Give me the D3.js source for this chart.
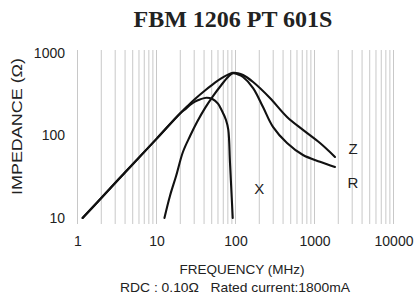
<!DOCTYPE html>
<html><head><meta charset="utf-8">
<script src="https://cdn.jsdelivr.net/npm/d3@7"></script>
<style>
html,body{margin:0;padding:0;background:#fff;}
svg{display:block;}
text{font-family:"Liberation Sans",Arial,Helvetica,sans-serif;fill:#222;}
</style></head>
<body>
<script>
const title = "FBM 1206 PT 601S";
const xTicks = [1, 10, 100, 1000, 10000];
const yTicks = [10, 100, 1000];
const xLabel = "FREQUENCY (MHz)";
const yLabel = "IMPEDANCE (Ω)";
const footnote = "RDC : 0.10Ω   Rated current:1800mA";

const zFreq = [1.16, 2, 5, 10, 20, 25, 30.7, 41.1, 55, 67.5, 80.4, 93, 107.6, 124.5, 167, 273, 449, 715, 1174, 1817];
const zVal  = [10, 17.5, 44.9, 91, 186, 230, 277, 351, 437, 498, 547, 575, 569, 541, 445, 285, 168, 117, 81, 55];

const rFreq = [12.6, 14.8, 17.7, 21.6, 26.6, 32.6, 41.1, 51.9, 65.5, 80.4, 93, 107.6, 124.5, 167, 223, 298, 449, 715, 1174, 1817];
const rVal  = [10, 18.5, 32.3, 63.1, 98.6, 146, 215, 301, 404, 512, 567, 549, 512, 376, 221, 127, 81, 58, 48, 41.5];

const xFreq = [1.16, 2, 5, 10, 20, 23, 26.6, 30.7, 35.5, 43, 51, 60, 67.5, 75.8, 81.1, 85.2, 89.5, 92.2];
const xVal  = [10, 17.5, 44.9, 91, 186, 207, 234, 258, 274, 287, 277, 243, 198, 154, 117, 46.4, 18, 10];

const curveLabels = [
  {name: "Z", f: 3070, v: 67},
  {name: "R", f: 3070, v: 26},
  {name: "X", f: 200, v: 22}
];

const W = 415, H = 296;
const svg = d3.select("body").append("svg").attr("width", W).attr("height", H);

const x = d3.scaleLog().domain([1, 10000]).range([77.5, 393.5]);
const y = d3.scaleLog().domain([10, 1000]).range([218, 53]);

// vertical grid lines
const gridVals = [];
for (let d = 1; d < 10000; d *= 10) for (let k = 1; k < 10; k++) gridVals.push(d * k);
gridVals.push(10000);
svg.append("g").selectAll("line").data(gridVals).join("line")
  .attr("x1", d => x(d)).attr("x2", d => x(d))
  .attr("y1", 50).attr("y2", 224)
  .attr("stroke", "#c8c8c8").attr("stroke-width", 1);

// axes (labels only)
const xAxis = svg.append("g").attr("transform", "translate(0,233)")
  .call(d3.axisBottom(x).tickValues(xTicks).tickFormat(d3.format("d")).tickSize(0));
xAxis.select(".domain").remove();
xAxis.selectAll("text").attr("font-size", 14).style("font-family", '"Liberation Sans",Arial,sans-serif').attr("fill", "#222");

const yAxis = svg.append("g").attr("transform", "translate(68,0)")
  .call(d3.axisLeft(y).tickValues(yTicks).tickFormat(d3.format("d")).tickSize(0));
yAxis.select(".domain").remove();
yAxis.selectAll("text").attr("font-size", 14).style("font-family", '"Liberation Sans",Arial,sans-serif').attr("fill", "#222");

// curves
const line = d3.line().x(d => x(d[0])).y(d => y(d[1])).curve(d3.curveCatmullRom.alpha(0.5));
const series = [
  zFreq.map((f, i) => [f, zVal[i]]),
  rFreq.map((f, i) => [f, rVal[i]]),
  xFreq.map((f, i) => [f, xVal[i]])
];
svg.append("g").selectAll("path").data(series).join("path")
  .attr("d", line).attr("fill", "none").attr("stroke", "#111").attr("stroke-width", 2.1)
  .attr("stroke-linejoin", "round").attr("stroke-linecap", "round");

// curve labels
svg.append("g").selectAll("text").data(curveLabels).join("text")
  .attr("x", d => x(d.f)).attr("y", d => y(d.v))
  .attr("text-anchor", "middle").attr("dominant-baseline", "middle")
  .attr("font-size", 15).text(d => d.name);

// title
svg.append("text").attr("x", 233).attr("y", 26.5).attr("text-anchor", "middle")
  .style("font-family", '"Liberation Serif","Times New Roman",serif')
  .attr("font-weight", "bold").attr("font-size", 24).attr("fill", "#111").text(title);

// axis titles
svg.append("text").attr("transform", "translate(18,126.5) rotate(-90)")
  .attr("text-anchor", "middle").attr("dominant-baseline", "middle")
  .attr("font-size", 15).attr("textLength", 137).attr("lengthAdjust", "spacingAndGlyphs")
  .text(yLabel);
svg.append("text").attr("x", 242).attr("y", 270).attr("text-anchor", "middle")
  .attr("dominant-baseline", "middle").attr("font-size", 13.5).text(xLabel);
svg.append("text").attr("x", 235).attr("y", 288).attr("text-anchor", "middle")
  .attr("dominant-baseline", "middle").attr("font-size", 13.5)
  .attr("textLength", 230).attr("lengthAdjust", "spacingAndGlyphs")
  .style("white-space", "pre").text(footnote);
</script>
</body></html>
